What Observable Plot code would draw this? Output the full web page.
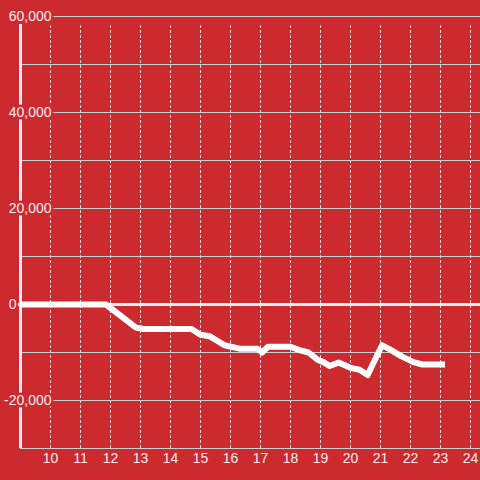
<!DOCTYPE html>
<html>
<head>
<meta charset="utf-8">
<script src="https://cdn.jsdelivr.net/npm/d3@7"></script>
<script src="https://cdn.jsdelivr.net/npm/@observablehq/plot@0.6"></script>
<style>
  html, body { margin: 0; padding: 0; background: #cc2a2f; }
</style>
</head>
<body>
<div id="chart"></div>
<script>
// Series values
const xValues = [9.0, 11.85, 12.85, 13.1, 14.7, 15.0, 15.3, 15.8, 16.3, 16.9, 17.05, 17.25, 18.0, 18.3, 18.6, 18.9, 19.1, 19.3, 19.6, 20.0, 20.3, 20.57, 21.05, 21.3, 21.7, 22.1, 22.4, 23.15];
const yValues = [0, 0, -4800, -5100, -5100, -6300, -6600, -8500, -9200, -9200, -10000, -8800, -8800, -9500, -10000, -11500, -12000, -12800, -12100, -13200, -13600, -14700, -8500, -9300, -10800, -12000, -12500, -12500];

// Tick labels / grid
const xTicks = [10, 11, 12, 13, 14, 15, 16, 17, 18, 19, 20, 21, 22, 23, 24];
const yLabelTicks = [-20000, 20000, 40000, 60000];
const yZeroTick = [0];
const yGrid = [-30000, -20000, -10000, 0, 10000, 20000, 30000, 40000, 50000, 60000];

const data = xValues.map((x, i) => ({x, y: yValues[i]}));
const bg = "#cc2a2f";
const fmt = d => d.toLocaleString("en-US");

const chart = Plot.plot({
  width: 480,
  height: 480,
  marginLeft: 20,
  marginRight: 0,
  marginTop: 16,
  marginBottom: 32,
  x: {domain: [9, 24.333], axis: null},
  y: {domain: [-30000, 60000], axis: null},
  style: {background: bg, fontFamily: "'Liberation Sans', Arial, sans-serif", fontSize: "14px", color: "#eee"},
  marks: [
    Plot.ruleY(yGrid, {stroke: "#cfcfcf", strokeWidth: 1}),
    Plot.ruleX(xTicks, {y1: -30000, y2: 58333, stroke: "#d8d8d8", strokeWidth: 1, strokeDasharray: "3,2"}),
    Plot.ruleX([9], {y1: -30000, y2: 58333, stroke: "#eeeeee", strokeWidth: 3}),
    Plot.ruleY(yZeroTick, {x1: 8.93, x2: 24.333, stroke: "#eeeeee", strokeWidth: 3}),
    Plot.line(data, {x: "x", y: "y", stroke: "white", strokeWidth: 6, strokeLinejoin: "round", strokeLinecap: "butt"}),
    Plot.text(yLabelTicks, {y: d => d, text: fmt, frameAnchor: "left", textAnchor: "end", dx: 31, fill: "#eeeeee", stroke: bg, strokeWidth: 5, fontSize: 14}),
    Plot.text(yZeroTick, {y: d => d, text: fmt, frameAnchor: "left", textAnchor: "end", dx: -4, fill: "#eeeeee", fontSize: 14}),
    Plot.text(xTicks, {x: d => d, text: d => String(d), frameAnchor: "bottom", dy: 14, fill: "#eeeeee", fontSize: 14})
  ]
});
document.getElementById("chart").append(chart);
</script>
</body>
</html>
